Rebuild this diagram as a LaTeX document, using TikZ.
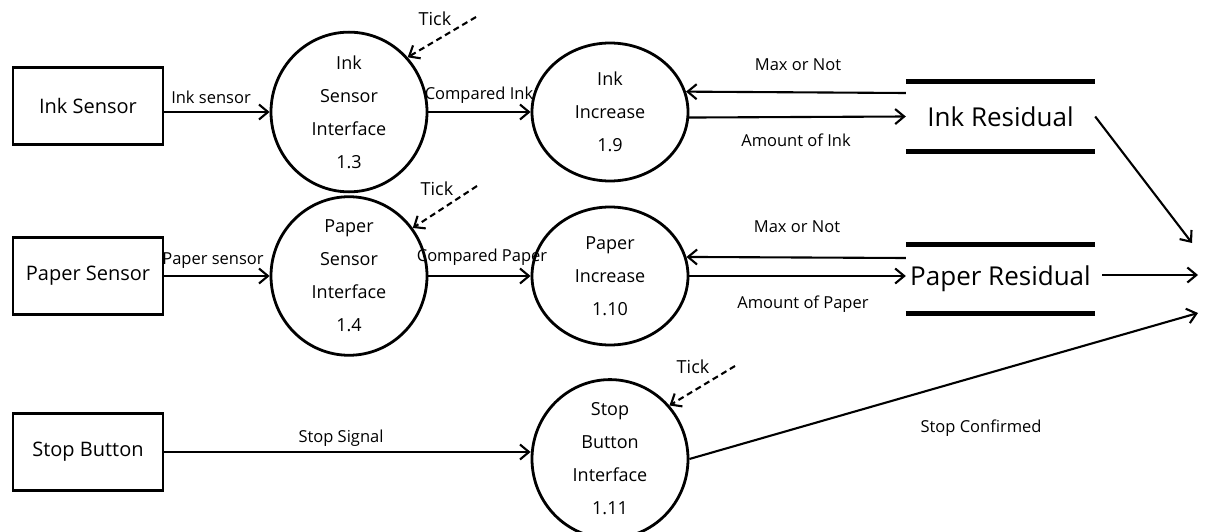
\documentclass[tikz,border=0pt]{standalone}
\usepackage{fontspec}
\setmainfont{Open Sans}
\usetikzlibrary{arrows.meta,shapes.geometric}
\begin{document}
\begin{tikzpicture}[x=1pt,y=-1pt,
  ent/.style={draw,line width=2.8pt,minimum width=150pt,minimum height=77pt,inner sep=0pt,font=\fontsize{20}{24}\selectfont},
  proc/.style={draw,ellipse,line width=2.8pt,minimum width=156pt,minimum height=138pt,inner sep=0pt,align=center,font=\fontsize{18}{33}\selectfont},
  store/.style={minimum width=189pt,minimum height=69pt,inner sep=0pt,font=\fontsize{26}{30}\selectfont},
  storeline/.style={line width=5pt},
  flow/.style={line width=2.1pt,-{Straight Barb[length=9pt,width=15pt]}},
  tickflow/.style={flow,dash pattern=on 6pt off 4pt},
  lab/.style={font=\fontsize{16.5}{20}\selectfont,inner sep=0pt,text height=12pt,text depth=0pt},
  ticklab/.style={lab,font=\fontsize{18}{22}\selectfont,text height=13pt},
]
\fill[white] (0,0) rectangle (1208,532);
\useasboundingbox (0,0) rectangle (1208,532);

% external entities
\node[ent] (inksen) at (88,106) {Ink Sensor};
\node[ent] (papsen) at (88,276) {Paper Sensor};
\node[ent] (stopbtn) at (88,452) {Stop Button};

% processes
\node[proc] (is13) at (349,112) {Ink\\Sensor\\Interface\\1.3};
\node[proc] (ii19) at (610,112) {Ink\\Increase\\1.9};
\node[proc] (is14) at (349,276) {Paper\\Sensor\\Interface\\1.4};
\node[proc] (pi110) at (610,276) {Paper\\Increase\\1.10};
\node[proc] (sb111) at (610,459) {Stop\\Button\\Interface\\1.11};

% data stores
\node[store] (inkres) at (1000.5,116.5) {Ink Residual};
\draw[storeline] (inkres.north west) -- (inkres.north east);
\draw[storeline] (inkres.south west) -- (inkres.south east);
\node[store] (papres) at (1000.5,279) {Paper Residual};
\draw[storeline] (papres.north west) -- (papres.north east);
\draw[storeline] (papres.south west) -- (papres.south east);

% free ends
\coordinate (t1) at (476,17);
\coordinate (t2) at (477,186);
\coordinate (t3) at (735,366);
\coordinate (o1) at (1192,243);
\coordinate (o2) at (1198,275);
\coordinate (o3) at (1198,313);

% ink row
\coordinate (e1) at ([yshift=-6pt]inksen.east);
\draw[flow] (e1) -- (e1 -| is13.west);
\draw[flow] (is13.east) -- (ii19.west);
\coordinate (m1) at ([yshift=23.5pt]inkres.west);
\draw[flow] (m1) -- (ii19.15);
\draw[flow] (ii19.-4) -- (inkres.west);
\draw[flow] (inkres.east) -- (o1);
\draw[tickflow] (t1) -- (is13.43);

% paper row
\draw[flow] (papsen.east) -- (is14.west);
\draw[flow] (is14.east) -- (pi110.west);
\coordinate (m2) at ([yshift=21pt]papres.west);
\draw[flow] (m2) -- (pi110.14);
\draw[flow] (pi110.east) -- (pi110.east -| papres.west);
\coordinate (p2) at ([xshift=7pt,yshift=4pt]papres.east);
\draw[flow] (p2) -- (o2);
\draw[tickflow] (t2) -- (is14.37);

% stop row
\draw[flow] (stopbtn.east) -- (stopbtn.east -| sb111.west);
\draw[flow] (sb111.east) -- (o3);
\draw[tickflow] (t3) -- (sb111.42);

% flow labels
\node[lab] (l1) at (211,98) {Ink sensor};
\node[lab] (l2) at (479,94) {Compared Ink};
\node[lab] (l3) at (798,65) {Max or Not};
\node[lab] (l4) at (796,141) {Amount of Ink};
\node[lab] (l5) at (213,258) {Paper sensor};
\node[lab] (l6) at (482,255) {Compared Paper};
\node[lab] (l7) at (797,226) {Max or Not};
\node[lab] (l8) at (803,302) {Amount of Paper};
\node[lab] (l9) at (341,436) {Stop Signal};
\node[lab] (l10) at (981,426) {Stop Confirmed};
\node[ticklab] (k1) at (435,19) {Tick};
\node[ticklab] (k2) at (437,189) {Tick};
\node[ticklab] (k3) at (693,367) {Tick};
\end{tikzpicture}
\end{document}
